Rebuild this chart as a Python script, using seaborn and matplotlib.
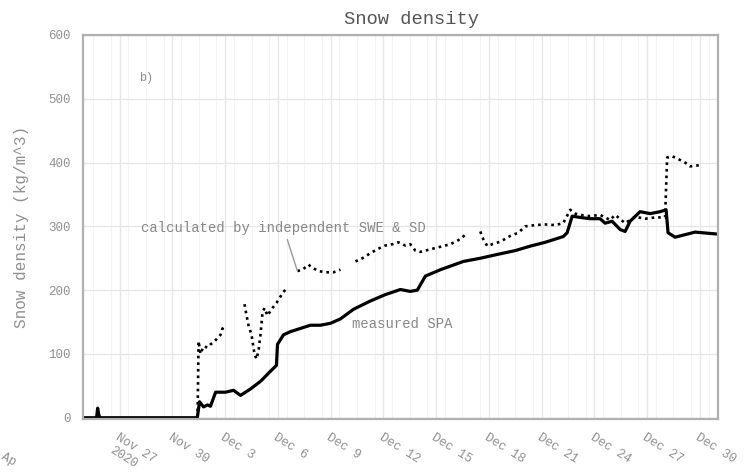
import numpy as np
import pandas as pd
import matplotlib
matplotlib.use("Agg")
import matplotlib.pyplot as plt
import matplotlib.dates as mdates
import seaborn as sns

# ---------------- data ----------------
spa_times = [
    "2020-11-25 00:00", "2020-11-25 16:30", "2020-11-25 18:00", "2020-11-25 19:30", "2020-11-25 21:00",
    "2020-12-01 10:00", "2020-12-01 13:00", "2020-12-01 18:30", "2020-12-02 00:00", "2020-12-02 04:00",
    "2020-12-02 11:00", "2020-12-03 00:30", "2020-12-03 11:30", "2020-12-03 21:00", "2020-12-04 10:30",
    "2020-12-05 00:15", "2020-12-05 14:00", "2020-12-05 22:00", "2020-12-05 23:30", "2020-12-06 07:40",
    "2020-12-06 17:15", "2020-12-07 06:45", "2020-12-07 20:25", "2020-12-08 10:00", "2020-12-08 23:45",
    "2020-12-09 13:30", "2020-12-10 07:10", "2020-12-11 06:15", "2020-12-12 02:40", "2020-12-12 23:15",
    "2020-12-13 12:45", "2020-12-13 22:20", "2020-12-14 09:20", "2020-12-15 05:45", "2020-12-16 13:10",
    "2020-12-17 12:15", "2020-12-18 11:30", "2020-12-19 12:00", "2020-12-20 08:25", "2020-12-21 04:50",
    "2020-12-22 05:30", "2020-12-22 10:50", "2020-12-22 17:45", "2020-12-23 04:35", "2020-12-23 18:15",
    "2020-12-24 07:50", "2020-12-24 14:40", "2020-12-25 00:15", "2020-12-25 11:15", "2020-12-25 18:00",
    "2020-12-26 00:45", "2020-12-26 14:25", "2020-12-27 04:05", "2020-12-27 17:45", "2020-12-28 01:55",
    "2020-12-28 04:35", "2020-12-28 14:10", "2020-12-29 03:50", "2020-12-29 17:30", "2020-12-30 23:00",
]
spa_values = [
    0, 0, 15, 5, 0,
    0, 25, 17, 20, 18,
    40, 40, 43, 35, 45,
    57, 73, 82, 115, 130,
    135, 140, 145, 145, 148,
    155, 170, 183, 193, 201,
    198, 200, 222, 232, 245,
    250, 256, 262, 269, 275,
    284, 290, 316, 314, 312,
    312, 305, 308, 295, 292,
    308, 323, 320, 323, 326,
    290, 283, 287, 291, 288,
]

calc_times = [
    "2020-12-01 10:20", "2020-12-01 11:45", "2020-12-01 14:25", "2020-12-01 18:30", "2020-12-02 00:00",
    "2020-12-02 04:05", "2020-12-02 08:10", "2020-12-02 13:40", "2020-12-02 17:45", "2020-12-02 20:25",
    "2020-12-02 23:10", "2020-12-03 12:00",
    "2020-12-04 02:25", "2020-12-04 05:15", "2020-12-04 07:55", "2020-12-04 12:00", "2020-12-04 16:05",
    "2020-12-04 18:50", "2020-12-04 21:35", "2020-12-05 00:15", "2020-12-05 03:00", "2020-12-05 05:45",
    "2020-12-05 09:50", "2020-12-05 15:15", "2020-12-05 22:05", "2020-12-06 06:15", "2020-12-06 13:10",
    "2020-12-06 20:00",
    "2020-12-07 02:40", "2020-12-07 09:35", "2020-12-07 17:40", "2020-12-07 23:15", "2020-12-08 07:25",
    "2020-12-08 16:50", "2020-12-09 03:50", "2020-12-09 13:25", "2020-12-09 22:00",
    "2020-12-10 09:50", "2020-12-10 19:25", "2020-12-11 06:15", "2020-12-11 17:15", "2020-12-12 02:40",
    "2020-12-12 12:15", "2020-12-12 20:25", "2020-12-13 06:00", "2020-12-13 12:45", "2020-12-13 19:40",
    "2020-12-14 02:25", "2020-12-14 16:05", "2020-12-15 05:45", "2020-12-15 19:25", "2020-12-16 09:05",
    "2020-12-16 15:50", "2020-12-17 02:00",
    "2020-12-17 12:15", "2020-12-17 16:20", "2020-12-17 21:50", "2020-12-18 04:35", "2020-12-18 15:35",
    "2020-12-19 05:15", "2020-12-19 16:05", "2020-12-20 01:40", "2020-12-20 15:20", "2020-12-21 04:50",
    "2020-12-21 18:30", "2020-12-22 05:30", "2020-12-22 15:05", "2020-12-22 21:50", "2020-12-23 04:35",
    "2020-12-23 18:15", "2020-12-24 07:50", "2020-12-24 21:35", "2020-12-25 04:20", "2020-12-25 18:00",
    "2020-12-26 07:40", "2020-12-26 21:20", "2020-12-27 10:50", "2020-12-28 00:30", "2020-12-28 03:20",
    "2020-12-28 10:05", "2020-12-28 21:05", "2020-12-29 03:50", "2020-12-29 10:35", "2020-12-30 00:15",
    "2020-12-30 12:00", "2020-12-30 23:00",
]
calc_values = [
    0, 120, 100, 112, 110,
    115, 118, 125, 130, 140,
    135, np.nan,
    178, 160, 145, 130, 100,
    92, 105, 130, 165, 172,
    160, 170, 180, 195, 205,
    np.nan,
    230, 232, 240, 235, 230,
    228, 228, 232, np.nan,
    245, 250, 258, 265, 270,
    272, 275, 270, 272, 262,
    260, 264, 268, 272, 280,
    287, np.nan,
    292, 280, 269, 272, 276,
    285, 290, 300, 302, 303,
    302, 305, 326, 320, 318,
    316, 318, 310, 318, 305,
    315, 312, 314, 314, 408,
    410, 404, 400, 394, 396,
    np.nan, 400,
]

tick_dates = ["2020-11-27", "2020-11-30", "2020-12-03", "2020-12-06", "2020-12-09", "2020-12-12",
              "2020-12-15", "2020-12-18", "2020-12-21", "2020-12-24", "2020-12-27", "2020-12-30"]
tick_labels = ["Nov 27", "Nov 30", "Dec 3", "Dec 6", "Dec 9", "Dec 12",
               "Dec 15", "Dec 18", "Dec 21", "Dec 24", "Dec 27", "Dec 30"]
year_label = "2020"
y_ticks = [0, 100, 200, 300, 400, 500, 600]

# ---------------- frames ----------------
spa = pd.DataFrame({"time": pd.to_datetime(spa_times), "density": spa_values})
calc = pd.DataFrame({"time": pd.to_datetime(calc_times), "density": calc_values})
calc["seg"] = calc["density"].isna().cumsum()
calc = calc.dropna()

# ---------------- plot ----------------
sns.set_style("white")
FONT = ["Liberation Mono", "DejaVu Sans Mono"]
plt.rcParams["font.family"] = FONT

W, H = 747, 472
fig = plt.figure(figsize=(W / 100, H / 100), dpi=100)
ax = fig.add_axes([83 / W, 1 - 419 / H, (718 - 83) / W, (419 - 35) / H])

sns.lineplot(data=calc, x="time", y="density", units="seg", estimator=None,
             color="black", linewidth=1.9, linestyle=(0, (1, 1.5)), ax=ax, legend=False)
sns.lineplot(data=spa, x="time", y="density", estimator=None,
             color="black", linewidth=2.3, ax=ax, legend=False)

ax.set_xlim(pd.Timestamp("2020-11-24 22:00"), pd.Timestamp("2020-12-31 00:45"))
ax.set_ylim(-2, 600)

ax.set_xticks(pd.to_datetime(tick_dates))
ax.set_xticklabels(tick_labels, rotation=-32, ha="left", va="top",
                   rotation_mode="anchor", fontsize=9, color="#909090")
ax.set_yticks(y_ticks)
ax.set_yticklabels([str(v) for v in y_ticks], fontsize=9, color="#909090")
ax.set_xlabel("")
ax.set_ylabel("Snow density (kg/m^3)", fontsize=11.5, color="#909090", labelpad=14)

# year under the first date label
ax.annotate(year_label, xy=(pd.to_datetime(tick_dates[0]), 0),
            xycoords=("data", "axes fraction"), xytext=(-4, -18),
            textcoords="offset points", rotation=-32, ha="left", va="top",
            rotation_mode="anchor", fontsize=9, color="#909090", annotation_clip=False)

ax.xaxis.set_minor_locator(mdates.HourLocator(byhour=[12], interval=1))
ax.grid(True, which="major", color="#e6e6e6", linewidth=1.0)
ax.grid(True, which="minor", axis="x", color="#f3f3f3", linewidth=0.8)
ax.tick_params(which="minor", length=0)
ax.tick_params(which="major", direction="out", length=5, width=1, color="#a0a0a0", pad=4)
ax.set_axisbelow(True)
for s in ax.spines.values():
    s.set_color("#b0b0b0")
    s.set_linewidth(1.6)

# annotations
ax.text(pd.Timestamp("2020-11-28 12:00"), 533, "b)", fontsize=8.5, color="#909090",
        ha="center", va="center")
ax.annotate("calculated by independent SWE & SD",
            xy=(pd.Timestamp("2020-12-07 02:40"), 230), xytext=(-10, 31),
            textcoords="offset points", ha="center", va="center", fontsize=10,
            color="#888888",
            arrowprops=dict(arrowstyle="-", color="#999999", lw=1.0, shrinkA=1, shrinkB=0))
ax.text(pd.Timestamp("2020-12-13 02:00"), 147, "measured SPA", fontsize=10,
        color="#888888", ha="center", va="center")

fig.text(412 / W, 1 - 20 / H, "Snow density", ha="center", va="center",
         fontsize=13.5, color="#555555")
fig.text(8 / W, 1 - 460 / H, "Ap", ha="center", va="center", rotation=-30,
         fontsize=9, color="#909090")

fig.savefig("out.png", dpi=100)
